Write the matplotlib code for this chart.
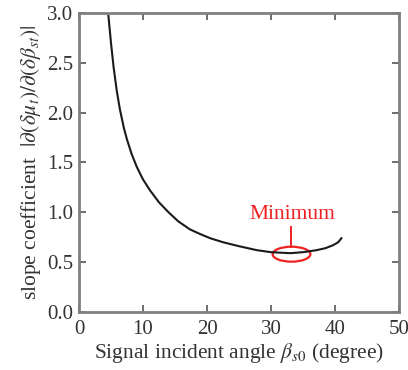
import matplotlib
matplotlib.use("Agg")
import matplotlib.pyplot as plt
from matplotlib.patches import Ellipse

# Data
angle = [4.6, 5.0, 5.4, 5.9, 6.4, 7.0, 7.5, 8.2, 9.0, 10.0, 11.1, 12.5, 14.0, 15.5, 17.3,
         19.0, 20.5, 22.5, 25.0, 27.8, 30.0, 33.0, 35.0, 37.1, 38.5, 39.7, 40.5, 41.0]
slope = [2.97, 2.70, 2.46, 2.22, 2.03, 1.85, 1.73, 1.59, 1.46, 1.33, 1.22, 1.10, 1.00, 0.91, 0.83,
         0.78, 0.74, 0.70, 0.66, 0.62, 0.60, 0.59, 0.60, 0.62, 0.64, 0.67, 0.70, 0.74]
xticks = [0, 10, 20, 30, 40, 50]
yticks = [0.0, 0.5, 1.0, 1.5, 2.0, 2.5, 3.0]
min_center = (33.2, 0.58)
annot_text = "Minimum"

plt.rcParams['font.family'] = ['Liberation Serif', 'DejaVu Serif']
plt.rcParams['mathtext.fontset'] = 'stix'

fig = plt.figure(figsize=(4.08, 3.70), dpi=100)
ax = fig.add_axes([0.1936, 0.1568, 0.7844, 0.8081])

ax.plot(angle, slope, color='#1a1a1a', lw=1.5)

ax.set_xlim(0, 50)
ax.set_ylim(0, 3.0)
ax.set_xticks(xticks)
ax.set_yticks(yticks)
ax.set_xticklabels([str(t) for t in xticks])
ax.set_yticklabels([f"{t:.1f}" for t in yticks])

for s in ax.spines.values():
    s.set_color('#808080')
    s.set_linewidth(2.0)
ax.tick_params(direction='in', top=True, right=True, length=5, width=1.2,
               color='#555555', labelsize=15, labelcolor='#333333')
ax.tick_params(axis='x', pad=6)
ax.tick_params(axis='y', pad=4)

ax.set_xlabel(r"Signal incident angle $\beta_{s0}$ (degree)", fontsize=15.5,
              color='#333333', labelpad=1)
ax.set_ylabel(r"slope coefficient  $|\partial(\delta\mu_t)/\partial(\delta\beta_{st})|$",
              fontsize=15.5, color='#333333', labelpad=3)

red = '#ee2222'
ell = Ellipse(min_center, width=5.9, height=0.15, fill=False, edgecolor=red, lw=1.6)
ax.add_patch(ell)
ax.plot([min_center[0], min_center[0]], [min_center[1] + 0.075, min_center[1] + 0.275],
        color=red, lw=1.4)
ax.text(min_center[0] + 0.2, min_center[1] + 0.35, annot_text, color=red, fontsize=15.5,
        ha='center', va='baseline')

fig.savefig("out.png", dpi=100)
